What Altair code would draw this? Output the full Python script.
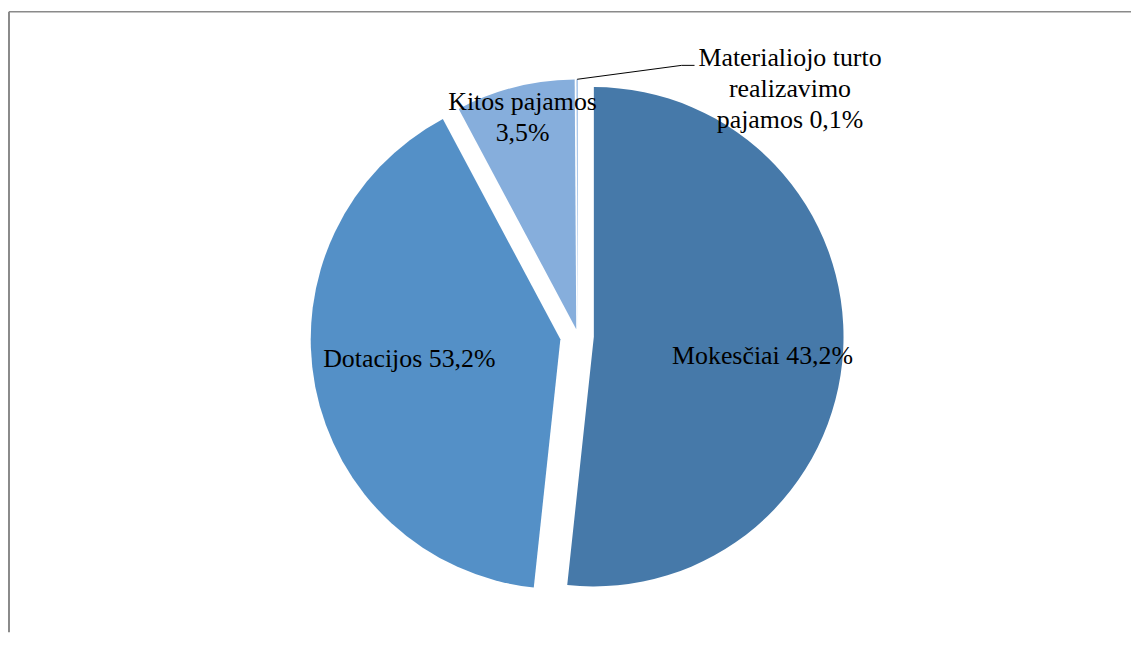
import math
import altair as alt
import pandas as pd

# ---- data (slice sizes as drawn, clockwise from 12 o'clock) ----
categories = ["Mokesčiai", "Dotacijos", "Kitos pajamos", "Materialiojo turto realizavimo pajamos"]
shares = [51.7, 40.5, 7.7, 0.1]
labels = ["Mokesčiai 43,2%", "Dotacijos 53,2%", "Kitos pajamos\n3,5%",
          "Materialiojo turto\nrealizavimo\npajamos 0,1%"]

# ---- style ----
colors = ["#4679A9", "#5490C7", "#86AEDC", "#A8C5E8"]
W, H = 1128, 624
CX, CY = 572, 326
R = 251
explode = [16, 18, 7, 7]
label_r = [0.68, 0.61, 0.875]
label_shift = [3.5, 3.5, 0.0]
FONT = "Liberation Serif"
LH = 31

total = sum(shares)
rows, lab_rows = [], []
acc = 0.0
for i, (c, s) in enumerate(zip(categories, shares)):
    start, end = acc, acc + s
    acc = end
    mid = math.radians((start + end) / 2 / total * 360)
    dx, dy = explode[i] * math.sin(mid), -explode[i] * math.cos(mid)
    rows.append({"category": c, "start": start, "end": end, "dx": dx, "dy": dy})
    nlines = labels[i].count("\n") + 1
    lift = (nlines - 1) * LH / 2  # centre multi-line blocks
    if i < 3:
        a = mid + math.radians(label_shift[i])
        rr = label_r[i] * R
        lab_rows.append({"text": labels[i], "lx": dx + rr * math.sin(a),
                         "ly": dy - rr * math.cos(a) - lift})
    else:
        # callout for the tiny slice
        a = math.radians((start + end) / 2 / total * 360)
        sx, sy = dx + R * math.sin(a), dy - R * math.cos(a)
        ex, ey = sx + 105, sy - 14
        fx, fy = ex + 13, ey
        leader = pd.DataFrame({"x": [sx, ex, fx], "y": [sy, ey, fy], "o": [0, 1, 2]})
        lab_rows.append({"text": labels[i], "lx": fx + 96, "ly": fy + 24 - lift})

df = pd.DataFrame(rows)
lab = pd.DataFrame(lab_rows)

xs = alt.Scale(domain=[-CX, W - CX], nice=False, zero=False)
ys = alt.Scale(domain=[-CY, H - CY], nice=False, zero=False, reverse=True)

arcs = alt.Chart(df).mark_arc(radius=R).encode(
    theta=alt.Theta("start:Q", scale=alt.Scale(domain=[0, total], range=[0, 2 * math.pi])),
    theta2="end:Q",
    x=alt.X("dx:Q", scale=xs, axis=None),
    y=alt.Y("dy:Q", scale=ys, axis=None),
    color=alt.Color("category:N", scale=alt.Scale(domain=categories, range=colors), legend=None),
)

text = alt.Chart(lab).mark_text(
    font=FONT, fontSize=26, lineBreak="\n", align="center", baseline="middle",
    lineHeight=LH, color="black"
).encode(
    x=alt.X("lx:Q", scale=xs, axis=None),
    y=alt.Y("ly:Q", scale=ys, axis=None),
    text="text:N",
)

line = alt.Chart(leader).mark_line(color="black", strokeWidth=1).encode(
    x=alt.X("x:Q", scale=xs, axis=None),
    y=alt.Y("y:Q", scale=ys, axis=None),
    order="o:Q",
)

frame_data = pd.DataFrame({"k": [0]})
left_border = alt.Chart(frame_data).mark_rule(color="#8a8a8a", strokeWidth=2).encode(
    x=alt.value(0), y=alt.value(0), y2=alt.value(H)
)
top_border = alt.Chart(frame_data).mark_rule(color="#8a8a8a", strokeWidth=1.5).encode(
    x=alt.value(0), x2=alt.value(W), y=alt.value(0)
)

chart = alt.layer(left_border, top_border, arcs, line, text).properties(
    width=W, height=H, padding={"left": 0, "top": 1, "right": 0, "bottom": 0}
).configure_view(stroke=None)

chart.save("out.html", embed_options={"renderer": "svg", "actions": False})
